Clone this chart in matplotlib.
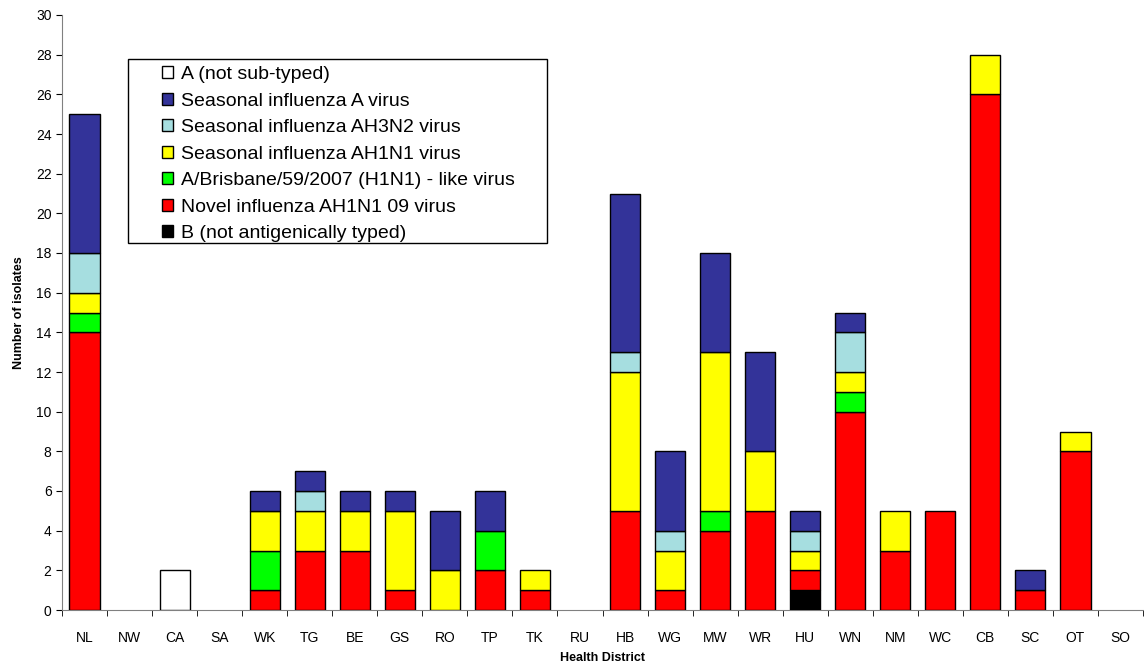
import matplotlib
matplotlib.use("Agg")
import matplotlib.pyplot as plt
from matplotlib.patches import Patch, Rectangle
import numpy as np

plt.rcParams['font.family'] = ['Liberation Sans', 'DejaVu Sans']

districts = ["NL","NW","CA","SA","WK","TG","BE","GS","RO","TP","TK","RU",
             "HB","WG","MW","WR","HU","WN","NM","WC","CB","SC","OT","SO"]

b_untyped   = [0,0,0,0,0,0,0,0,0,0,0,0, 0,0,0,0,1,0,0,0,0,0,0,0]
novel_h1n1  = [14,0,0,0,1,3,3,1,0,2,1,0, 5,1,4,5,1,10,3,5,26,1,8,0]
brisbane    = [1,0,0,0,2,0,0,0,0,2,0,0, 0,0,1,0,0,1,0,0,0,0,0,0]
seas_h1n1   = [1,0,0,0,2,2,2,4,2,0,1,0, 7,2,8,3,1,1,2,0,2,0,1,0]
seas_h3n2   = [2,0,0,0,0,1,0,0,0,0,0,0, 1,1,0,0,1,2,0,0,0,0,0,0]
seas_a      = [7,0,0,0,1,1,1,1,3,2,0,0, 8,4,5,5,1,1,0,0,0,1,0,0]
a_untyped   = [0,0,2,0,0,0,0,0,0,0,0,0, 0,0,0,0,0,0,0,0,0,0,0,0]

series = [
    ("B (not antigenically typed)", b_untyped, "#000000"),
    ("Novel influenza AH1N1 09 virus", novel_h1n1, "#FF0000"),
    ("A/Brisbane/59/2007 (H1N1) - like virus", brisbane, "#00FF00"),
    ("Seasonal influenza AH1N1 virus", seas_h1n1, "#FFFF00"),
    ("Seasonal influenza AH3N2 virus", seas_h3n2, "#A6DEE0"),
    ("Seasonal influenza A virus", seas_a, "#333399"),
    ("A (not sub-typed)", a_untyped, "#FFFFFF"),
]

W, H = 1144, 668
fig = plt.figure(figsize=(W/100, H/100), dpi=100)
ax = fig.add_axes([62/W, 1-610/H, 1-62/W-1/W, (610-15)/H])

x = np.arange(len(districts))
bottom = np.zeros(len(districts))
for name, vals, col in series:
    v = np.array(vals, dtype=float)
    mask = v > 0
    ax.bar(x[mask], v[mask], bottom=bottom[mask], width=0.67, color=col,
           edgecolor="black", linewidth=1.0, zorder=3)
    bottom += v

ax.set_xlim(-0.5, len(districts) - 0.5)
ax.set_ylim(0, 30)
ax.set_yticks(np.arange(0, 31, 2))
ax.set_xticks(x)
ax.set_xticklabels(districts, fontsize=10)
ax.set_xticks(np.arange(-0.5, len(districts) + 0.5, 1), minor=True)
ax.tick_params(axis='x', which='major', length=0, pad=15)
ax.tick_params(axis='x', which='minor', length=4, direction='out', color='black')
ax.tick_params(axis='y', length=4, direction='out', labelsize=10)

for s in ['top', 'right']:
    ax.spines[s].set_visible(False)
ax.spines['left'].set_color('#808080')
ax.spines['bottom'].set_color('#808080')

ax.set_ylabel("Number of isolates", fontsize=9, fontweight='bold', labelpad=8)
ax.set_xlabel("Health District", fontsize=9, fontweight='bold', labelpad=5)

# legend frame
fig.patches.append(Rectangle((128/W, 1-243/H), (547-128)/W, (243-59)/H,
                             transform=fig.transFigure, facecolor='white',
                             edgecolor='black', linewidth=1.0, zorder=4))

handles = [Patch(facecolor=col, edgecolor='black', label=name) for name, vals, col in reversed(series)]
leg = fig.legend(handles=handles, loc='upper left', bbox_to_anchor=(162/W, 1-66/H),
                 fontsize=14, frameon=False,
                 handlelength=0.55, handleheight=0.55, handletextpad=0.45,
                 labelspacing=0.49, borderpad=0, borderaxespad=0)
leg.set_zorder(5)

fig.savefig("out.png", dpi=100)
